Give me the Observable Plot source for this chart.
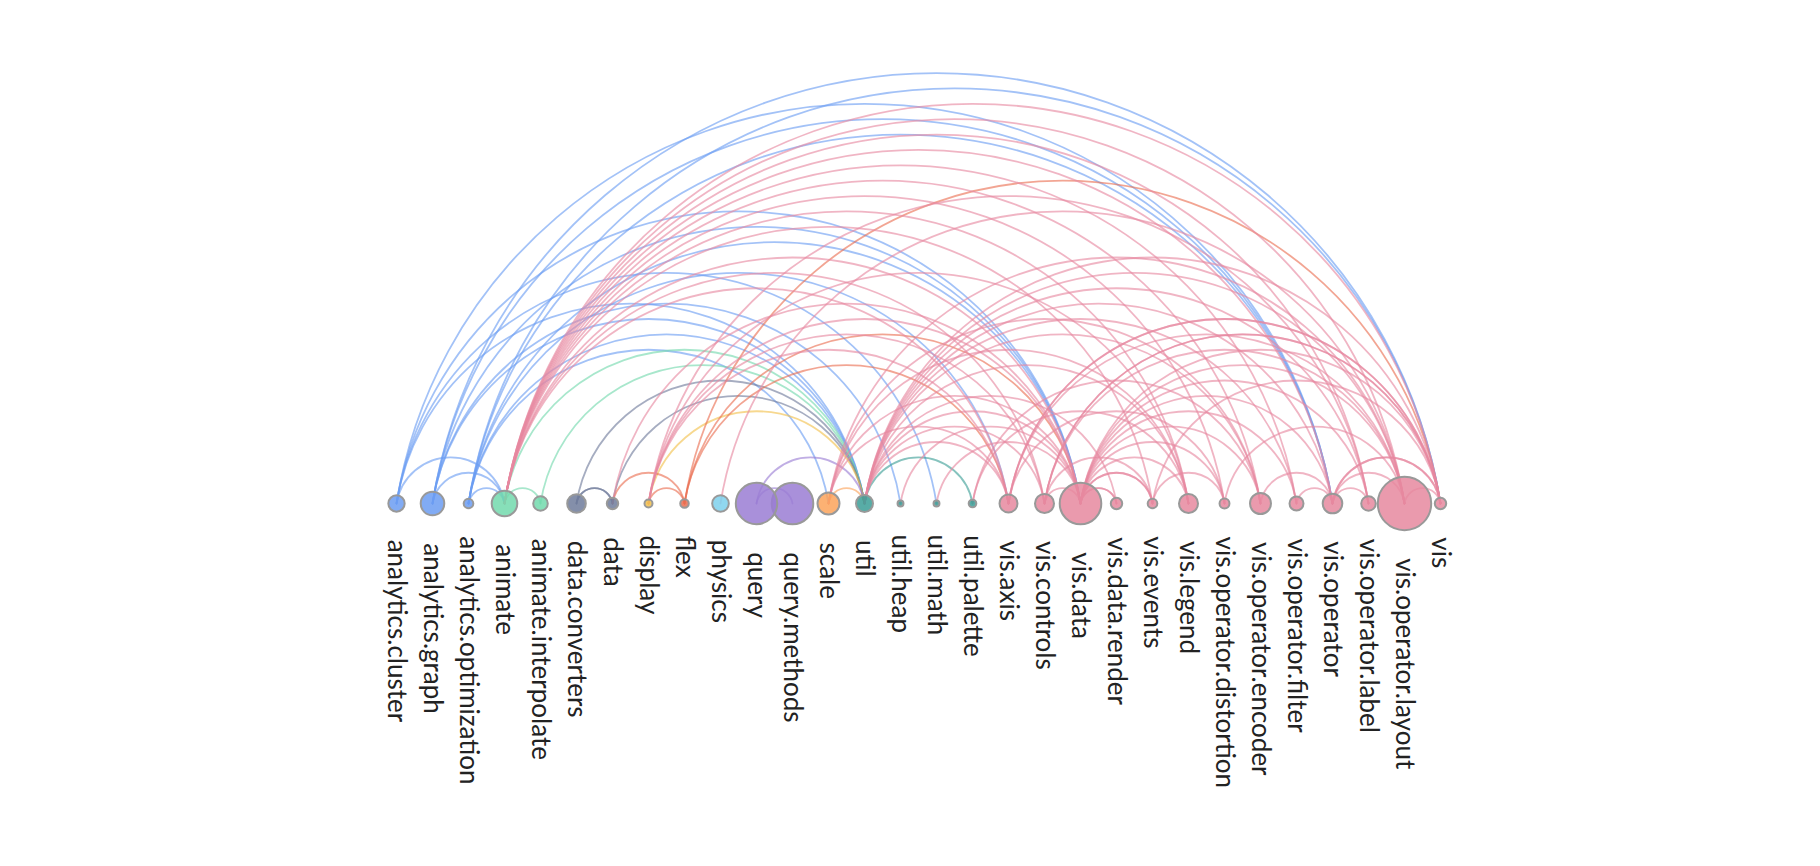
<!DOCTYPE html>
<html>
<head>
<meta charset="utf-8">
<script src="https://cdn.jsdelivr.net/npm/d3@7"></script>
<script src="https://cdn.jsdelivr.net/npm/@observablehq/plot@0.6"></script>
<style>
  html, body { margin: 0; padding: 0; background: #fff; }
  #chart svg { display: block; }
</style>
</head>
<body>
<div id="chart"></div>
<script>
// Packages in display order
const packages = [
  "analytics.cluster", "analytics.graph", "analytics.optimization",
  "animate", "animate.interpolate",
  "data.converters", "data",
  "display", "flex", "physics",
  "query", "query.methods",
  "scale",
  "util", "util.heap", "util.math", "util.palette",
  "vis.axis", "vis.controls", "vis.data", "vis.data.render", "vis.events",
  "vis.legend", "vis.operator.distortion", "vis.operator.encoder",
  "vis.operator.filter", "vis.operator", "vis.operator.label",
  "vis.operator.layout", "vis"
];

// Relative package size (drives circle area)
const packageSize = [
  9.2, 19.1, 3.2,
  22.5, 7.3,
  11.9, 4.5,
  2.2, 2.5, 9.5,
  58.8, 59.3,
  16.6,
  9.9, 1.2, 1.2, 2.0,
  11.1, 12.4, 59.3, 4.5, 3.2,
  12.4, 3.4, 15.1,
  6.7, 13.2, 7.3,
  97.8, 4.5
];

// Top-level groups and their colours
const groups = ["analytics", "animate", "data", "display", "flex", "physics", "query", "scale", "util", "vis"];
const groupColors = ["#6b9cf2", "#72d9ad", "#6f7b9b", "#f2c04a", "#ea6d50", "#7cd0ec", "#9a7cd4", "#fba35a", "#3b9e96", "#e6889f"];

// Package-level imports: [importer, imported]
const imports = [
  ["analytics.cluster", "animate"], ["analytics.cluster", "vis.data"], ["analytics.cluster", "util.math"],
  ["analytics.cluster", "vis.operator"], ["analytics.cluster", "util"],
  ["analytics.graph", "animate"], ["analytics.graph", "vis.data"], ["analytics.graph", "util"],
  ["analytics.graph", "vis.operator"], ["analytics.graph", "util.heap"], ["analytics.graph", "vis"],
  ["analytics.optimization", "animate"], ["analytics.optimization", "util"], ["analytics.optimization", "vis.data"],
  ["analytics.optimization", "scale"], ["analytics.optimization", "vis.axis"], ["analytics.optimization", "vis"],
  ["analytics.optimization", "vis.operator"],
  ["animate", "util"], ["animate", "animate.interpolate"],
  ["animate.interpolate", "util"],
  ["data.converters", "data"], ["data.converters", "util"],
  ["data", "data.converters"], ["data", "util"],
  ["display", "util"],
  ["flex", "display"], ["flex", "data"], ["flex", "vis"], ["flex", "vis.axis"], ["flex", "vis.data"],
  ["query", "util"],
  ["query.methods", "query"],
  ["scale", "util"],
  ["util.palette", "util"],
  ["vis.axis", "animate"], ["vis.axis", "vis"], ["vis.axis", "scale"], ["vis.axis", "util"], ["vis.axis", "display"],
  ["vis.controls", "vis"], ["vis.controls", "vis.operator.layout"], ["vis.controls", "vis.events"],
  ["vis.controls", "util"], ["vis.controls", "vis.data"], ["vis.controls", "animate"], ["vis.controls", "display"],
  ["vis.data", "util"], ["vis.data", "vis.data.render"], ["vis.data", "vis.events"], ["vis.data", "data"],
  ["vis.data", "display"], ["vis.data", "animate"], ["vis.data", "scale"], ["vis.data", "util.heap"],
  ["vis.data", "util.math"],
  ["vis.data.render", "vis.data"], ["vis.data.render", "util"],
  ["vis.events", "vis.data"], ["vis.events", "animate"],
  ["vis.legend", "animate"], ["vis.legend", "vis.data"], ["vis.legend", "util.palette"],
  ["vis.legend", "display"], ["vis.legend", "scale"], ["vis.legend", "util"],
  ["vis.operator.distortion", "animate"], ["vis.operator.distortion", "vis.data"],
  ["vis.operator.distortion", "vis.events"], ["vis.operator.distortion", "vis.axis"],
  ["vis.operator.distortion", "vis.operator.layout"],
  ["vis.operator.encoder", "animate"], ["vis.operator.encoder", "scale"], ["vis.operator.encoder", "util.palette"],
  ["vis.operator.encoder", "vis.data"], ["vis.operator.encoder", "vis.operator"], ["vis.operator.encoder", "util"],
  ["vis.operator.filter", "animate"], ["vis.operator.filter", "vis.data"],
  ["vis.operator.filter", "vis.operator"], ["vis.operator.filter", "util"],
  ["vis.operator", "animate"], ["vis.operator", "vis"], ["vis.operator", "util"], ["vis.operator", "vis.data"],
  ["vis.operator.label", "animate"], ["vis.operator.label", "vis.data"], ["vis.operator.label", "util"],
  ["vis.operator.label", "display"], ["vis.operator.label", "vis.operator"],
  ["vis.operator.layout", "scale"], ["vis.operator.layout", "util"], ["vis.operator.layout", "vis.data"],
  ["vis.operator.layout", "vis.axis"], ["vis.operator.layout", "vis.operator"], ["vis.operator.layout", "animate"],
  ["vis.operator.layout", "physics"], ["vis.operator.layout", "vis"],
  ["vis", "animate"], ["vis", "vis.data"], ["vis", "vis.events"], ["vis", "vis.axis"],
  ["vis", "util"], ["vis", "vis.operator"], ["vis", "vis.controls"]
];

const groupOf = (name) => name.split(".")[0];
const order = new Map(packages.map((p, i) => [p, i]));
const nodes = packages.map((name, i) => ({name, size: packageSize[i], group: groupOf(name)}));
const links = imports.map(([source, target]) => {
  const forward = order.get(source) < order.get(target);
  return {source, target, left: forward ? source : target, right: forward ? target : source, group: groupOf(source)};
});

const rMax = 27;
const rScale = d3.scaleSqrt().domain([0, 100]).range([0, rMax]);

const chart = Plot.plot({
  width: 1820,
  height: 866,
  margin: 0,
  x: {type: "point", domain: packages, range: [387.5, 1448], padding: 0, axis: null},
  y: {domain: [0, 503], range: [503, 0], axis: null},
  r: {type: "sqrt", domain: [0, 100], range: [0, rMax]},
  color: {domain: groups, range: groupColors},
  style: {fontFamily: "Lato, 'Open Sans', sans-serif", background: "#fff", overflow: "visible"},
  marks: [
    Plot.arrow(links, {
      x1: "left", x2: "right", y1: 0, y2: 0,
      bend: 81, headLength: 0,
      stroke: "group", strokeWidth: 1.8, strokeOpacity: 0.62
    }),
    Plot.dot(nodes, {
      x: "name", y: 0, r: "size",
      fill: "group", fillOpacity: 0.85,
      stroke: "#999", strokeWidth: 2
    }),
    Plot.text(nodes, {
      x: "name",
      y: (d) => -(rScale(d.size) + 28),
      text: "name",
      rotate: 90, textAnchor: "start", lineAnchor: "middle",
      fontSize: 26, fill: "#222"
    })
  ]
});

document.getElementById("chart").append(chart);
</script>
</body>
</html>
